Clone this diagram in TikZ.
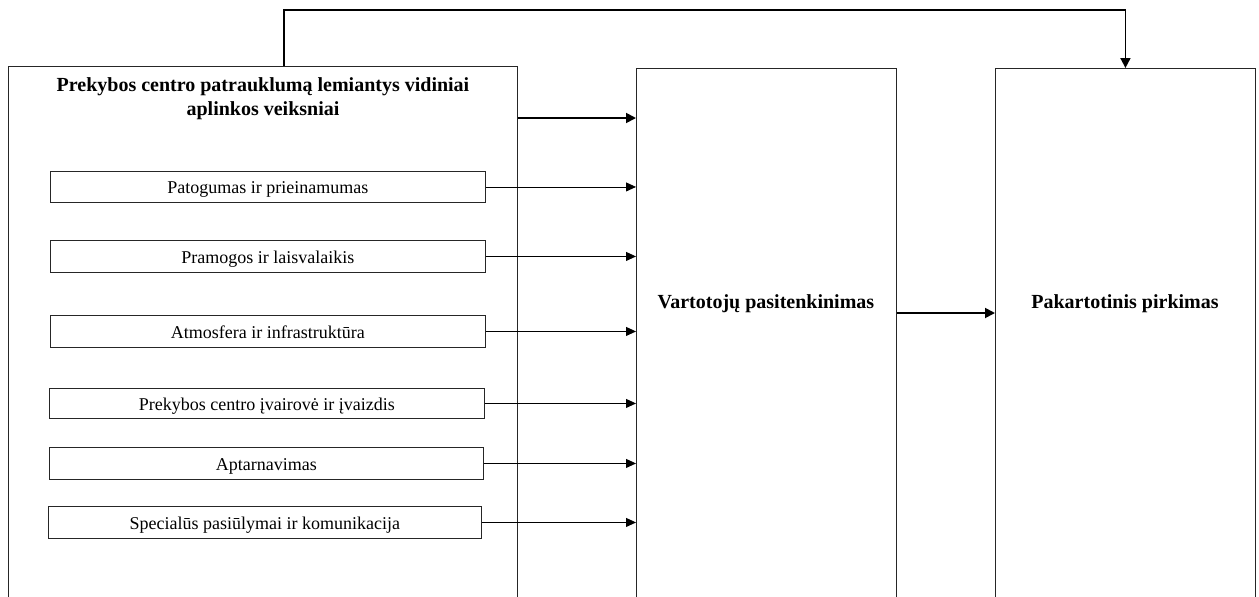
\documentclass[tikz,border=0pt]{standalone}
\usepackage{fontspec}
\setmainfont{Liberation Serif}
\usetikzlibrary{arrows.meta}
\begin{document}
\begin{tikzpicture}[x=1pt,y=-1pt,
  bigbox/.style={draw=black!85, line width=0.9pt, inner sep=0pt, anchor=north west},
  itembox/.style={draw=black!85, line width=0.9pt, inner sep=0pt, anchor=north west, text height=18pt, text depth=4pt, font=\fontsize{18}{20}\selectfont},
  boldlabel/.style={font=\fontsize{20}{24}\selectfont\bfseries, align=center},
  thinarrow/.style={-{Triangle[length=10pt,width=9pt]}, line width=0.9pt},
  thickarrow/.style={-{Triangle[length=10pt,width=10pt]}, line width=1.8pt},
]
\useasboundingbox (0,0) rectangle (1259,597);
% big boxes (cut off at the bottom)
\node[bigbox, minimum width=509pt, minimum height=545pt] (left) at (8,66) {};
\node[bigbox, minimum width=260pt, minimum height=545pt] (mid) at (636,68) {};
\node[bigbox, minimum width=260pt, minimum height=545pt] (right) at (995,68) {};
% labels
\node[boldlabel] (head) at (263,99) {Prekybos centro patrauklumą lemiantys vidiniai\\aplinkos veiksniai};
\node[boldlabel] (midlabel) at (766,304) {Vartotojų pasitenkinimas};
\node[boldlabel] (rightlabel) at (1125,304) {Pakartotinis pirkimas};
% item boxes
\node[itembox, minimum width=435pt, minimum height=31pt] (p1) at (50,171) {Patogumas ir prieinamumas};
\node[itembox, minimum width=435pt, minimum height=32pt] (p2) at (50,240) {Pramogos ir laisvalaikis};
\node[itembox, minimum width=435pt, minimum height=32pt] (p3) at (50,315) {Atmosfera ir infrastruktūra};
\node[itembox, minimum width=435pt, minimum height=30pt] (p4) at (49,388) {Prekybos centro įvairovė ir įvaizdis};
\node[itembox, minimum width=434pt, minimum height=32pt] (p5) at (49,447) {Aptarnavimas};
\node[itembox, minimum width=433pt, minimum height=32pt] (p6) at (48,506) {Specialūs pasiūlymai ir komunikacija};
% arrows
\draw[thickarrow] ([yshift=-52pt]left.north east) -- ([yshift=-50pt]mid.north west);
\foreach \p in {p1,p2,p3,p4,p5,p6}
  \draw[thinarrow] (\p.east) -- (\p.east -| mid.west);
\draw[thickarrow] ([yshift=-245pt]mid.north east) -- ([yshift=-245pt]right.north west);
\coordinate (topy) at (0,10);
\draw[thickarrow] ([xshift=276pt]left.north west) -- ([xshift=276pt]left.north west |- topy) -| (right.north);
\end{tikzpicture}
\end{document}
